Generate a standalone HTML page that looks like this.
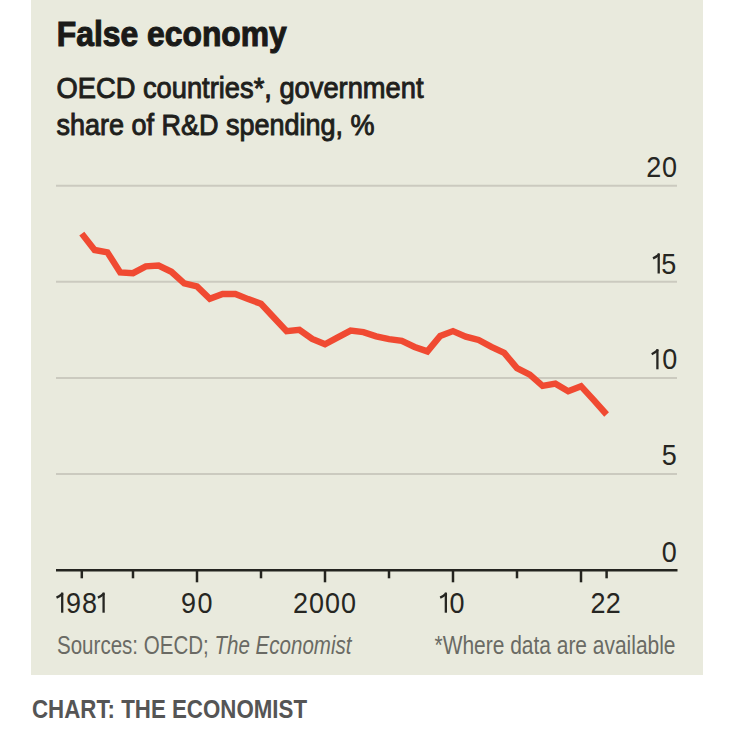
<!DOCTYPE html>
<html><head><meta charset="utf-8"><style>
html,body{margin:0;padding:0;background:#fff;}
body{width:732px;height:732px;overflow:hidden;position:relative;}
svg{position:absolute;left:0;top:0;}
text{font-family:"Liberation Sans",sans-serif;}
</style></head><body>
<svg width="732" height="732" viewBox="0 0 732 732">
<rect x="31" y="0" width="672" height="675" fill="#e9eadd"/>
<text x="56.8" y="45.6" font-size="35.6" font-weight="bold" fill="#1a1a18" stroke="#1a1a18" stroke-width="1.1" textLength="230" lengthAdjust="spacingAndGlyphs">False economy</text>
<g font-size="28.8" fill="#1f1f1c" stroke="#1f1f1c" stroke-width="0.95">
<text x="56.5" y="98" textLength="367" lengthAdjust="spacingAndGlyphs">OECD countries*, government</text>
<text x="56.5" y="135" textLength="318" lengthAdjust="spacingAndGlyphs">share of R&amp;D spending, %</text>
</g>
<g stroke="#cbcabf" stroke-width="2"><line x1="56" y1="185.7" x2="677" y2="185.7"/><line x1="56" y1="281.8" x2="677" y2="281.8"/><line x1="56" y1="377.9" x2="677" y2="377.9"/><line x1="56" y1="474.0" x2="677" y2="474.0"/></g>
<g font-size="29.8" fill="#262622">
<text transform="translate(647.50 177.00) scale(0.905 1)" x="-1.50" y="0">2</text>
<text transform="translate(663.10 177.00) scale(0.905 1)" x="-1.16" y="0">0</text><path d="M658.70 253.40V273.50" stroke="#262622" stroke-width="2.3"/>
<path d="M659.30 254.10Q656.50 256.80 653.00 258.40" stroke="#262622" stroke-width="2.3" fill="none"/>
<text transform="translate(662.40 273.50) scale(0.905 1)" x="-1.19" y="0">5</text><path d="M657.40 349.20V369.30" stroke="#262622" stroke-width="2.3"/>
<path d="M658.00 349.90Q655.20 352.60 651.70 354.20" stroke="#262622" stroke-width="2.3" fill="none"/>
<text transform="translate(663.40 369.30) scale(0.905 1)" x="-1.16" y="0">0</text><text transform="translate(662.80 465.40) scale(0.905 1)" x="-1.19" y="0">5</text><text transform="translate(662.80 562.40) scale(0.905 1)" x="-1.16" y="0">0</text>
</g>
<polyline points="81.8,233.6 94.6,250.0 107.4,252.3 120.2,272.5 133.0,273.2 145.8,266.4 158.6,265.6 171.4,271.8 184.2,283.4 197.0,286.4 209.8,298.7 222.6,294.0 235.4,294.0 248.2,299.1 261.0,303.8 273.8,317.5 286.6,331.1 299.4,329.8 312.2,338.9 325.0,344.3 337.8,337.4 350.6,330.6 363.4,332.1 376.2,336.4 389.0,339.1 401.8,340.9 414.6,347.0 427.4,351.4 440.2,335.9 453.0,331.1 465.8,336.6 478.6,340.0 491.4,346.8 504.2,352.9 517.0,368.1 529.8,374.6 542.6,385.9 555.4,383.7 568.2,391.2 581.0,386.2 593.8,400.2 606.6,414.5" fill="none" stroke="#f04a32" stroke-width="6.4" stroke-linejoin="miter"/>
<line x1="56" y1="570.2" x2="677.5" y2="570.2" stroke="#24241f" stroke-width="2.5"/>
<g stroke="#24241f" stroke-width="2.5"><line x1="81.8" y1="570" x2="81.8" y2="578.3"/><line x1="133.0" y1="570" x2="133.0" y2="578.3"/><line x1="197.0" y1="570" x2="197.0" y2="582.3"/><line x1="261.0" y1="570" x2="261.0" y2="578.3"/><line x1="325.0" y1="570" x2="325.0" y2="582.3"/><line x1="389.0" y1="570" x2="389.0" y2="578.3"/><line x1="453.0" y1="570" x2="453.0" y2="582.3"/><line x1="517.0" y1="570" x2="517.0" y2="578.3"/><line x1="581.0" y1="570" x2="581.0" y2="582.3"/><line x1="606.6" y1="570" x2="606.6" y2="578.3"/></g>
<g font-size="29.8" fill="#262622">
<path d="M62.20 592.60V612.70" stroke="#262622" stroke-width="2.3"/>
<path d="M62.80 593.30Q60.00 596.00 56.50 597.60" stroke="#262622" stroke-width="2.3" fill="none"/>
<text transform="translate(67.20 612.70) scale(0.905 1)" x="-1.40" y="0">9</text>
<text transform="translate(83.10 612.70) scale(0.905 1)" x="-1.30" y="0">8</text>
<path d="M103.60 592.60V612.70" stroke="#262622" stroke-width="2.3"/>
<path d="M104.20 593.30Q101.40 596.00 97.90 597.60" stroke="#262622" stroke-width="2.3" fill="none"/><text transform="translate(182.30 612.70) scale(0.905 1)" x="-1.40" y="0">9</text>
<text transform="translate(198.50 612.70) scale(0.905 1)" x="-1.16" y="0">0</text><text transform="translate(294.30 612.70) scale(0.905 1)" x="-1.50" y="0">2</text>
<text transform="translate(310.00 612.70) scale(0.905 1)" x="-1.16" y="0">0</text>
<text transform="translate(326.00 612.70) scale(0.905 1)" x="-1.16" y="0">0</text>
<text transform="translate(342.00 612.70) scale(0.905 1)" x="-1.16" y="0">0</text><path d="M445.85 592.60V612.70" stroke="#262622" stroke-width="2.3"/>
<path d="M446.45 593.30Q443.65 596.00 440.15 597.60" stroke="#262622" stroke-width="2.3" fill="none"/>
<text transform="translate(450.60 612.70) scale(0.905 1)" x="-1.16" y="0">0</text><text transform="translate(591.90 612.70) scale(0.905 1)" x="-1.50" y="0">2</text>
<text transform="translate(607.00 612.70) scale(0.905 1)" x="-1.50" y="0">2</text>
</g>
<text x="57" y="654" font-size="24.9" fill="#6a6a64" textLength="294.5" lengthAdjust="spacingAndGlyphs">Sources: OECD; <tspan font-style="italic">The Economist</tspan></text>
<text x="675.5" y="654" font-size="24.9" fill="#6a6a64" text-anchor="end" textLength="241" lengthAdjust="spacingAndGlyphs">*Where data are available</text>
<text x="32" y="718" font-size="25.8" font-weight="bold" fill="#555555" textLength="275" lengthAdjust="spacingAndGlyphs">CHART: THE ECONOMIST</text>
</svg>
</body></html>
